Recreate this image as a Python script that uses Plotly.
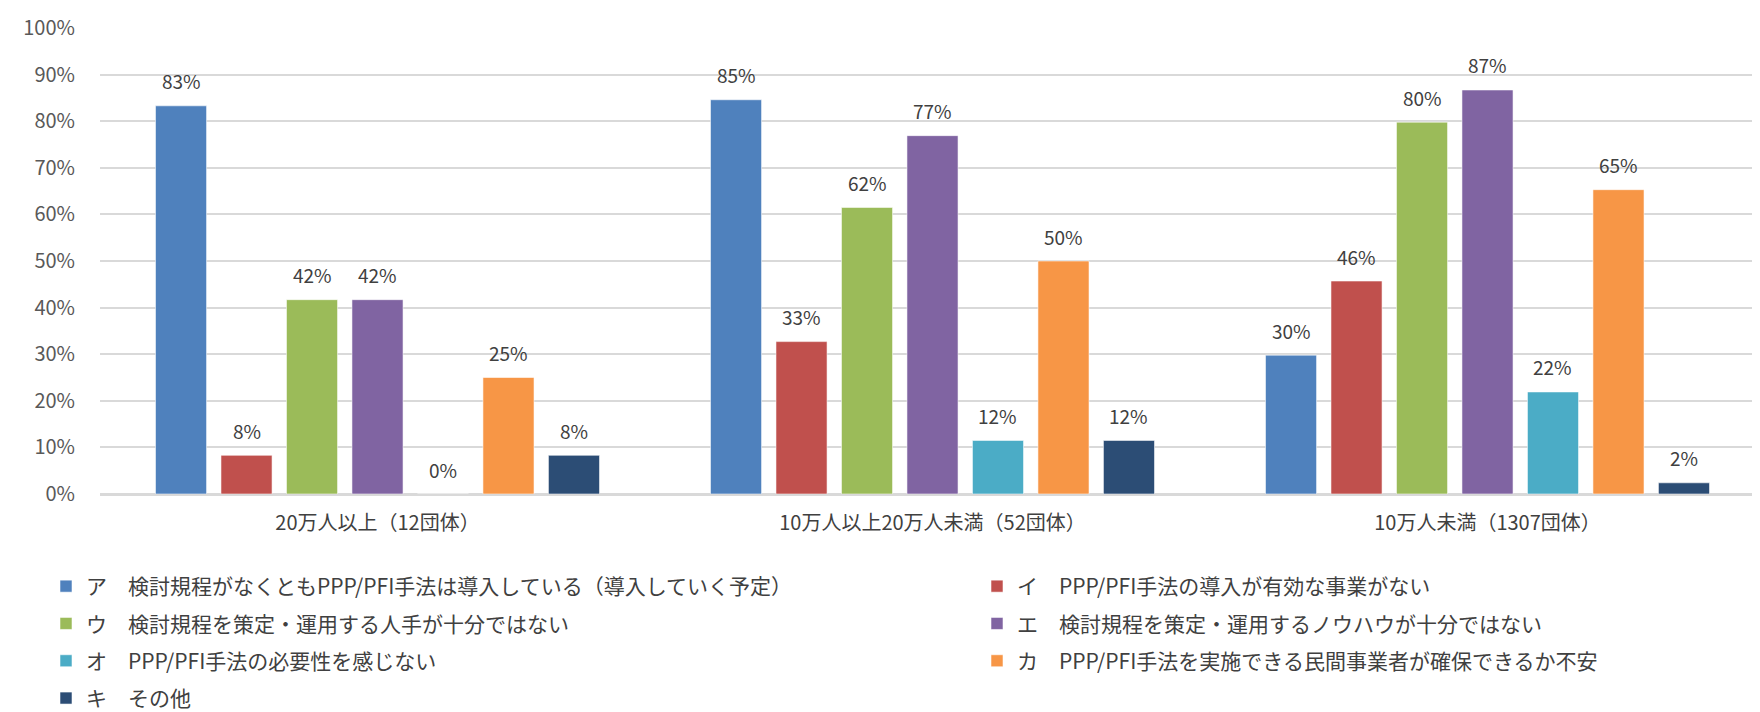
import plotly.graph_objects as go

categories = ["20万人以上（12団体）", "10万人以上20万人未満（52団体）", "10万人未満（1307団体）"]

series_names = [
    "ア　検討規程がなくともPPP/PFI手法は導入している（導入していく予定）",
    "イ　PPP/PFI手法の導入が有効な事業がない",
    "ウ　検討規程を策定・運用する人手が十分ではない",
    "エ　検討規程を策定・運用するノウハウが十分ではない",
    "オ　PPP/PFI手法の必要性を感じない",
    "カ　PPP/PFI手法を実施できる民間事業者が確保できるか不安",
    "キ　その他",
]

val_a = [83.3, 84.6, 29.8]
val_i = [8.3, 32.7, 45.7]
val_u = [41.7, 61.5, 79.8]
val_e = [41.7, 76.9, 86.7]
val_o = [0.0, 11.5, 21.9]
val_ka = [25.0, 50.0, 65.3]
val_ki = [8.3, 11.5, 2.4]

series_values = [val_a, val_i, val_u, val_e, val_o, val_ka, val_ki]
colors = ["#4F81BD", "#C0504D", "#9BBB59", "#8064A2", "#4BACC6", "#F79646", "#2C4D75"]

FONT = "Noto Sans CJK JP"
BARGAP = 0.174
BARGROUPGAP = 0.22
N = len(series_values)

# which legend box each series goes to (two columns, last item on its own row)
legend_ids = ["legend", "legend2", "legend", "legend2", "legend", "legend2", "legend3"]

fig = go.Figure()
slot = (1 - BARGAP) / N
for i, (name, vals, col) in enumerate(zip(series_names, series_values, colors)):
    fig.add_trace(go.Bar(
        x=categories, y=vals, name=name,
        marker=dict(color=col, line=dict(color="rgba(255,255,255,0.55)", width=1)),
        legend=legend_ids[i],
        legendgroup=f"g{i}",
        hoverinfo="y+name",
    ))
    for j, v in enumerate(vals):
        fig.add_annotation(
            x=j + (i - (N - 1) / 2) * slot, y=v, xref="x", yref="y",
            text=f"{v:.0f}%", showarrow=False,
            yanchor="middle", yshift=25,
            font=dict(size=19, color="#404040", family=FONT),
        )

L, R, T, B = 92, 3, 20, 226
W_PLOT = 1760 - L - R
H_PLOT = 712 - T - B
Y0 = 712 - B  # pixel row of the x axis

ROW = 37.3
LEG_TOP = 558

legend_common = dict(
    orientation="v", yanchor="top", xanchor="left",
    font=dict(size=21, color="#404040", family=FONT),
    tracegroupgap=7, itemwidth=30, bgcolor="rgba(0,0,0,0)",
)

def ly(px):
    return -(px - Y0) / H_PLOT

def lx(px):
    return (px - L) / W_PLOT

fig.update_layout(
    width=1760, height=712,
    paper_bgcolor="white", plot_bgcolor="white",
    margin=dict(l=L, r=R, t=T, b=B, autoexpand=False),
    barmode="group", bargap=BARGAP, bargroupgap=BARGROUPGAP,
    font=dict(family=FONT, color="#595959", size=18),
    showlegend=True,
    legend=dict(x=lx(38), y=ly(LEG_TOP), **legend_common),
    legend2=dict(x=lx(969), y=ly(LEG_TOP), **legend_common),
    legend3=dict(x=lx(38), y=ly(LEG_TOP + 3 * ROW), **legend_common),
)
fig.update_yaxes(
    range=[0, 100], dtick=10, ticksuffix="%",
    showgrid=True, gridcolor="#D9D9D9", gridwidth=1.5,
    zeroline=True, zerolinecolor="#D9D9D9", zerolinewidth=1.5,
    showline=False, tickfont=dict(size=20, color="#595959", family=FONT),
    ticks="", ticklabelstandoff=24, automargin=False,
)
fig.update_xaxes(
    showline=True, linecolor="#D9D9D9", linewidth=1.5,
    tickfont=dict(size=20, color="#404040", family=FONT), ticks="",
    ticklabelstandoff=10, automargin=False,
)

fig.write_html("out.html")
